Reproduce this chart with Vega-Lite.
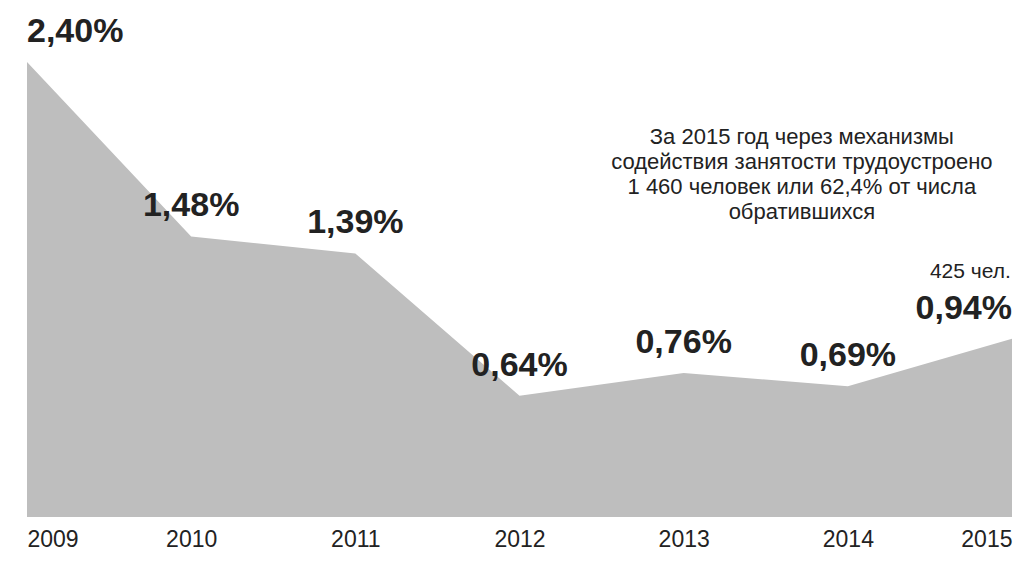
{
  "$schema": "https://vega.github.io/schema/vega-lite/v6.json",
  "width": 985,
  "height": 455,
  "autosize": {"type": "none"},
  "padding": {"left": 27, "top": 62, "right": 19, "bottom": 45},
  "background": "#ffffff",
  "config": {"view": {"stroke": null}},
  "data": {
    "values": [
      {"year": 2009, "value": 2.40, "label": "2,40%"},
      {"year": 2010, "value": 1.48, "label": "1,48%"},
      {"year": 2011, "value": 1.39, "label": "1,39%"},
      {"year": 2012, "value": 0.64, "label": "0,64%"},
      {"year": 2013, "value": 0.76, "label": "0,76%"},
      {"year": 2014, "value": 0.69, "label": "0,69%"},
      {"year": 2015, "value": 0.94, "label": "0,94%"}
    ]
  },
  "encoding": {
    "x": {
      "field": "year",
      "type": "quantitative",
      "scale": {"domain": [2009, 2015], "nice": false, "zero": false},
      "axis": {
        "title": null,
        "values": [2009, 2010, 2011, 2012, 2013, 2014, 2015],
        "format": "d",
        "domain": false,
        "ticks": false,
        "grid": false,
        "labelPadding": 11,
        "labelFont": "Liberation Sans",
        "labelFontSize": 23,
        "labelColor": "#222222",
        "labelAlign": {"condition": [{"test": "datum.value == 2009", "value": "left"}, {"test": "datum.value == 2015", "value": "right"}], "value": "center"},
        "labelFlush": false,
        "labelOverlap": false,
        "labelBound": false
      }
    },
    "y": {
      "field": "value",
      "type": "quantitative",
      "scale": {"domain": [0, 2.4], "nice": false},
      "axis": null
    }
  },
  "layer": [
    {
      "mark": {"type": "area", "color": "#bebebe", "interpolate": "linear"}
    },
    {
      "mark": {
        "type": "text",
        "font": "Liberation Sans",
        "fontWeight": "bold",
        "fontSize": 34,
        "color": "#222222",
        "baseline": "alphabetic",
        "dy": -20,
        "align": {"expr": "datum.year == 2009 ? 'left' : datum.year == 2015 ? 'right' : 'center'"}
      },
      "encoding": {"text": {"field": "label"}}
    },
    {
      "transform": [{"filter": "datum.year == 2015"}],
      "mark": {
        "type": "text",
        "font": "Liberation Sans",
        "fontWeight": "normal",
        "fontSize": 22,
        "color": "#222222",
        "align": "center",
        "baseline": "alphabetic",
        "lineHeight": 25,
        "text": ["За 2015 год через механизмы", "содействия занятости трудоустроено", "1 460 человек или 62,4% от числа", "обратившихся"]
      },
      "encoding": {
        "x": {"datum": 2013.72, "type": "quantitative"},
        "y": {"datum": 1.97, "type": "quantitative"}
      }
    },
    {
      "transform": [{"filter": "datum.year == 2015"}],
      "mark": {
        "type": "text",
        "font": "Liberation Sans",
        "fontWeight": "normal",
        "fontSize": 21,
        "color": "#222222",
        "align": "left",
        "baseline": "alphabetic",
        "text": "425 чел."
      },
      "encoding": {
        "x": {"datum": 2014.5, "type": "quantitative"},
        "y": {"datum": 1.26, "type": "quantitative"}
      }
    }
  ]
}
